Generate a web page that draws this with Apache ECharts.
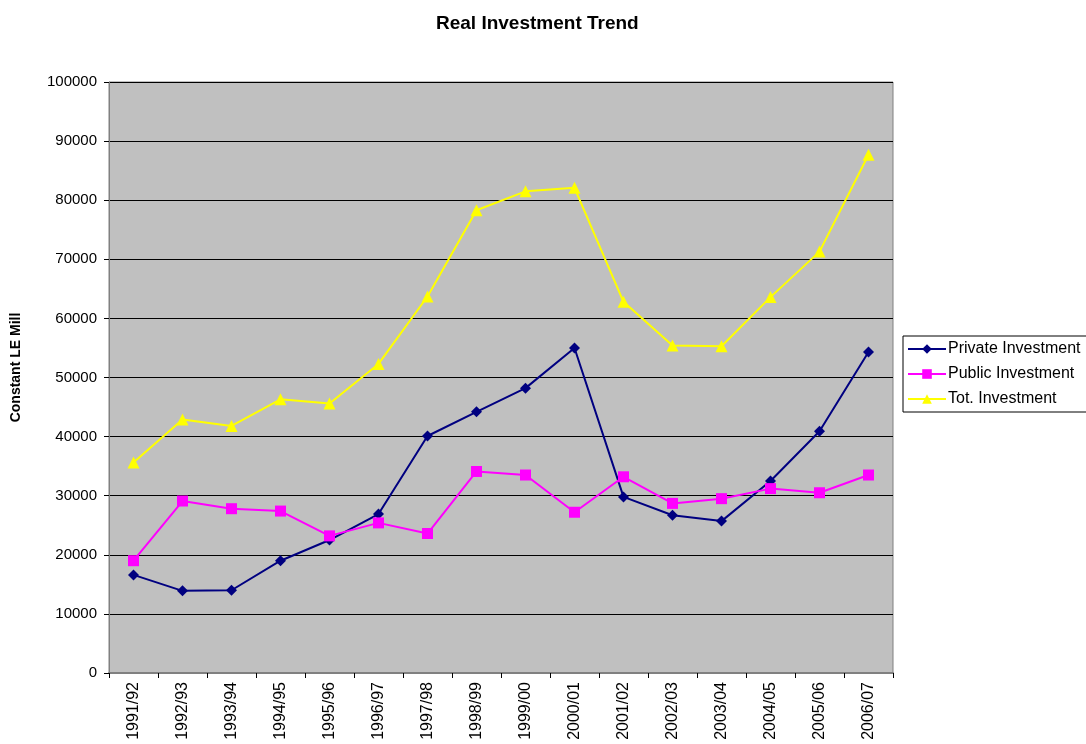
<!DOCTYPE html>
<html>
<head>
<meta charset="utf-8">
<script src="https://cdn.jsdelivr.net/npm/echarts@6/dist/echarts.min.js"></script>
<style>
html, body { margin: 0; padding: 0; background: #fff; }
#chart { width: 1086px; height: 744px; }
</style>
</head>
<body>
<div id="chart"></div>
<script>
const years = ['1991/92', '1992/93', '1993/94', '1994/95', '1995/96', '1996/97', '1997/98', '1998/99',
    '1999/00', '2000/01', '2001/02', '2002/03', '2003/04', '2004/05', '2005/06', '2006/07'];
const privateInv = [16600, 13900, 14000, 19000, 22500, 26900, 40100, 44200,
    48200, 55000, 29800, 26700, 25700, 32500, 40900, 54300];
const publicInv = [19000, 29100, 27800, 27400, 23200, 25400, 23600, 34100,
    33500, 27200, 33200, 28700, 29500, 31200, 30500, 33500];
const totalInv = [35600, 42900, 41800, 46300, 45600, 52300, 63700, 78300,
    81500, 82100, 62800, 55400, 55300, 63600, 71300, 87700];

const font = 'Liberation Sans, Arial, sans-serif';
const myChart = echarts.init(document.getElementById('chart'));

const lineSeries = (name, data, color, symbol, size) => ({
    name: name,
    type: 'line',
    data: data,
    symbol: symbol,
    symbolSize: size,
    showAllSymbol: true,
    lineStyle: { color: color, width: 2 },
    itemStyle: { color: color },
    emphasis: { disabled: true },
    animation: false,
});

myChart.setOption({
    backgroundColor: '#ffffff',
    title: {
        text: 'Real Investment Trend',
        left: 431,
        top: 9,
        textStyle: { fontFamily: font, fontSize: 19, fontWeight: 'bold', color: '#000' },
    },
    legend: {
        orient: 'vertical',
        left: 903,
        top: 336,
        padding: [5, 30, 5, 4],
        itemGap: 9,
        itemWidth: 38,
        itemHeight: 12,
        borderColor: '#000',
        borderWidth: 1,
        backgroundColor: '#fff',
        textStyle: { fontFamily: font, fontSize: 16, color: '#000', padding: [0, 0, 0, -3] },
        data: ['Private Investment', 'Public Investment', 'Tot. Investment'],
    },
    grid: {
        left: 109,
        right: 193,
        top: 82,
        bottom: 71,
        outerBoundsMode: 'none',
        show: true,
        backgroundColor: '#c0c0c0',
        borderColor: '#808080',
        borderWidth: 1,
    },
    xAxis: {
        type: 'category',
        data: years,
        boundaryGap: true,
        axisLine: { lineStyle: { color: '#808080', width: 2 } },
        axisTick: { show: true, length: 5, lineStyle: { color: '#000' } },
        axisLabel: {
            rotate: 90,
            interval: 0,
            margin: 9,
            fontFamily: font,
            fontSize: 16,
            color: '#000',
        },
        splitLine: { show: false },
    },
    yAxis: {
        type: 'value',
        min: 0,
        max: 100000,
        interval: 10000,
        name: 'Constant LE Mill',
        nameLocation: 'middle',
        nameGap: 86,
        nameTextStyle: {
            fontFamily: font, fontSize: 14, fontWeight: 'bold', color: '#000',
            padding: [0, 0, 0, 20],
        },
        axisLine: { show: true, lineStyle: { color: '#808080', width: 1 } },
        axisTick: { show: true, length: 5, lineStyle: { color: '#000' } },
        axisLabel: {
            fontFamily: font, fontSize: 15, color: '#000', margin: 12,
            formatter: v => String(v),
        },
        splitLine: { show: true, lineStyle: { color: '#000', width: 1 } },
    },
    series: [
        lineSeries('Private Investment', privateInv, '#000080', 'diamond', 11),
        lineSeries('Public Investment', publicInv, '#ff00ff', 'rect', 11),
        lineSeries('Tot. Investment', totalInv, '#ffff00', 'triangle', 12),
    ],
});
</script>
</body>
</html>
